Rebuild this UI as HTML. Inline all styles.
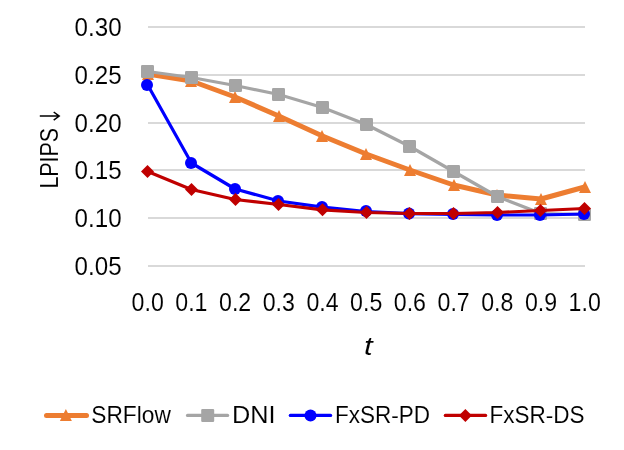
<!DOCTYPE html>
<html><head><meta charset="utf-8"><title>chart</title>
<style>
html,body{margin:0;padding:0;background:#fff;}
body{width:624px;height:450px;overflow:hidden;}
svg{display:block;will-change:transform;}
text{font-family:"Liberation Sans",sans-serif;fill:#000;stroke:#fff;stroke-width:0.08px;}
</style></head><body>
<svg width="624" height="450" viewBox="0 0 624 450">
<rect width="624" height="450" fill="#fff"/>
<g fill="#d9d9d9" shape-rendering="crispEdges">
<rect x="148" y="26" width="437" height="2"/>
<rect x="148" y="74" width="437" height="2"/>
<rect x="148" y="122" width="437" height="2"/>
<rect x="148" y="169" width="437" height="2"/>
<rect x="148" y="217" width="437" height="2"/>
<rect x="148" y="265" width="437" height="2"/>
</g>
<g font-size="25" text-anchor="end">
<text x="121.6" y="35.6" textLength="47" lengthAdjust="spacingAndGlyphs">0.30</text>
<text x="121.6" y="83.6" textLength="47" lengthAdjust="spacingAndGlyphs">0.25</text>
<text x="121.6" y="131.6" textLength="47" lengthAdjust="spacingAndGlyphs">0.20</text>
<text x="121.6" y="178.6" textLength="47" lengthAdjust="spacingAndGlyphs">0.15</text>
<text x="121.6" y="226.6" textLength="47" lengthAdjust="spacingAndGlyphs">0.10</text>
<text x="121.6" y="274.6" textLength="47" lengthAdjust="spacingAndGlyphs">0.05</text>
</g>
<g font-size="25" text-anchor="middle">
<text x="147.7" y="310.8" textLength="32.2" lengthAdjust="spacingAndGlyphs">0.0</text>
<text x="191.4" y="310.8" textLength="32.2" lengthAdjust="spacingAndGlyphs">0.1</text>
<text x="235.1" y="310.8" textLength="32.2" lengthAdjust="spacingAndGlyphs">0.2</text>
<text x="278.8" y="310.8" textLength="32.2" lengthAdjust="spacingAndGlyphs">0.3</text>
<text x="322.5" y="310.8" textLength="32.2" lengthAdjust="spacingAndGlyphs">0.4</text>
<text x="366.2" y="310.8" textLength="32.2" lengthAdjust="spacingAndGlyphs">0.5</text>
<text x="409.9" y="310.8" textLength="32.2" lengthAdjust="spacingAndGlyphs">0.6</text>
<text x="453.6" y="310.8" textLength="32.2" lengthAdjust="spacingAndGlyphs">0.7</text>
<text x="497.3" y="310.8" textLength="32.2" lengthAdjust="spacingAndGlyphs">0.8</text>
<text x="541.0" y="310.8" textLength="32.2" lengthAdjust="spacingAndGlyphs">0.9</text>
<text x="584.7" y="310.8" textLength="32.2" lengthAdjust="spacingAndGlyphs">1.0</text>
</g>
<text x="368.3" y="354.8" font-size="25" font-style="italic" text-anchor="middle" textLength="8.7" lengthAdjust="spacingAndGlyphs">t</text>
<g transform="translate(57.6 188.6) rotate(-90)"><text x="0" y="0" font-size="25" textLength="60.7" lengthAdjust="spacingAndGlyphs">LPIPS</text><path d="M72.5 -17.8V1.6M68.4 -3.9L72.5 1.6L76.6 -3.9" stroke="#000" stroke-width="1.5" fill="none"/></g>
<g fill="#ed7d31"><polyline points="147.7,74.0 191.4,81.0 235.1,97.0 278.8,116.0 322.5,136.0 366.2,154.0 409.9,170.0 453.6,185.0 497.3,195.0 541.0,199.0 584.7,187.0" fill="none" stroke="#ed7d31" stroke-width="5" stroke-linejoin="round" stroke-linecap="round"/>
<path d="M148.0 68.0L154.0 80.0L142.0 80.0Z"/><path d="M191.0 75.0L197.0 87.0L185.0 87.0Z"/><path d="M235.0 91.0L241.0 103.0L229.0 103.0Z"/><path d="M279.0 110.0L285.0 122.0L273.0 122.0Z"/><path d="M322.0 130.0L328.0 142.0L316.0 142.0Z"/><path d="M366.0 148.0L372.0 160.0L360.0 160.0Z"/><path d="M410.0 164.0L416.0 176.0L404.0 176.0Z"/><path d="M454.0 179.0L460.0 191.0L448.0 191.0Z"/><path d="M497.0 189.0L503.0 201.0L491.0 201.0Z"/><path d="M541.0 193.0L547.0 205.0L535.0 205.0Z"/><path d="M585.0 181.0L591.0 193.0L579.0 193.0Z"/></g>
<g fill="#a5a5a5"><polyline points="147.7,71.5 191.4,77.5 235.1,85.5 278.8,94.5 322.5,107.5 366.2,124.5 409.9,146.5 453.6,171.5 497.3,196.5 541.0,213.5 584.7,214.5" fill="none" stroke="#a5a5a5" stroke-width="3.2" stroke-linejoin="round" stroke-linecap="round"/>
<rect x="141.0" y="65.0" width="13" height="13" rx="1.2"/><rect x="185.0" y="71.0" width="13" height="13" rx="1.2"/><rect x="229.0" y="79.0" width="13" height="13" rx="1.2"/><rect x="272.0" y="88.0" width="13" height="13" rx="1.2"/><rect x="316.0" y="101.0" width="13" height="13" rx="1.2"/><rect x="360.0" y="118.0" width="13" height="13" rx="1.2"/><rect x="403.0" y="140.0" width="13" height="13" rx="1.2"/><rect x="447.0" y="165.0" width="13" height="13" rx="1.2"/><rect x="491.0" y="190.0" width="13" height="13" rx="1.2"/><rect x="534.0" y="207.0" width="13" height="13" rx="1.2"/><rect x="578.0" y="208.0" width="13" height="13" rx="1.2"/></g>
<g fill="#0000ff"><polyline points="147.7,85.0 191.4,163.0 235.1,189.0 278.8,201.0 322.5,207.2 366.2,211.5 409.9,213.7 453.6,214.3 497.3,215.0 541.0,215.0 584.7,214.0" fill="none" stroke="#0000ff" stroke-width="3.2" stroke-linejoin="round" stroke-linecap="round"/>
<circle cx="147.0" cy="85.0" r="6.0"/><circle cx="191.0" cy="163.0" r="6.0"/><circle cx="235.0" cy="189.0" r="6.0"/><circle cx="278.0" cy="201.0" r="6.0"/><circle cx="322.0" cy="207.0" r="6.0"/><circle cx="366.0" cy="211.0" r="6.0"/><circle cx="409.0" cy="213.5" r="6.0"/><circle cx="453.0" cy="214.0" r="6.0"/><circle cx="497.0" cy="215.0" r="6.0"/><circle cx="540.0" cy="215.0" r="6.0"/><circle cx="584.0" cy="214.0" r="6.0"/></g>
<g fill="#c00000"><polyline points="147.7,171.5 191.4,189.5 235.1,199.5 278.8,204.5 322.5,209.8 366.2,212.5 409.9,213.5 453.6,213.5 497.3,212.5 541.0,210.5 584.7,208.5" fill="none" stroke="#c00000" stroke-width="3.2" stroke-linejoin="round" stroke-linecap="round"/>
<path d="M147.5 165.0L154.0 171.5L147.5 178.0L141.0 171.5Z"/><path d="M191.5 183.0L198.0 189.5L191.5 196.0L185.0 189.5Z"/><path d="M235.5 193.0L242.0 199.5L235.5 206.0L229.0 199.5Z"/><path d="M278.5 198.0L285.0 204.5L278.5 211.0L272.0 204.5Z"/><path d="M322.5 203.3L329.0 209.8L322.5 216.3L316.0 209.8Z"/><path d="M366.5 206.0L373.0 212.5L366.5 219.0L360.0 212.5Z"/><path d="M409.5 207.0L416.0 213.5L409.5 220.0L403.0 213.5Z"/><path d="M453.5 207.0L460.0 213.5L453.5 220.0L447.0 213.5Z"/><path d="M497.5 206.0L504.0 212.5L497.5 219.0L491.0 212.5Z"/><path d="M540.5 204.0L547.0 210.5L540.5 217.0L534.0 210.5Z"/><path d="M584.5 202.0L591.0 208.5L584.5 215.0L578.0 208.5Z"/></g>
<g stroke-linecap="round">
<line x1="46.5" y1="415.4" x2="86.5" y2="415.4" stroke="#ed7d31" stroke-width="5"/><g fill="#ed7d31"><path d="M65.9 408.9L71.9 420.9L59.9 420.9Z"/></g>
<line x1="187.5" y1="415.4" x2="227.6" y2="415.4" stroke="#a5a5a5" stroke-width="3.2"/><g fill="#a5a5a5"><rect x="201.2" y="408.9" width="13" height="13" rx="1.2"/></g>
<line x1="290.3" y1="415.4" x2="330.6" y2="415.4" stroke="#0000ff" stroke-width="3.2"/><g fill="#0000ff"><circle cx="310.5" cy="415.4" r="6.0"/></g>
<line x1="445.3" y1="415.4" x2="485.6" y2="415.4" stroke="#c00000" stroke-width="3.2"/><g fill="#c00000"><path d="M465.4 408.9L471.9 415.4L465.4 421.9L458.9 415.4Z"/></g>
</g>
<g font-size="24.3">
<text x="91.3" y="422.7" textLength="79.5" lengthAdjust="spacingAndGlyphs">SRFlow</text>
<text x="232" y="422.7" textLength="43.5" lengthAdjust="spacingAndGlyphs">DNI</text>
<text x="335" y="422.7" textLength="95" lengthAdjust="spacingAndGlyphs">FxSR-PD</text>
<text x="489.6" y="422.7" textLength="95" lengthAdjust="spacingAndGlyphs">FxSR-DS</text>
</g>
</svg>
</body></html>
